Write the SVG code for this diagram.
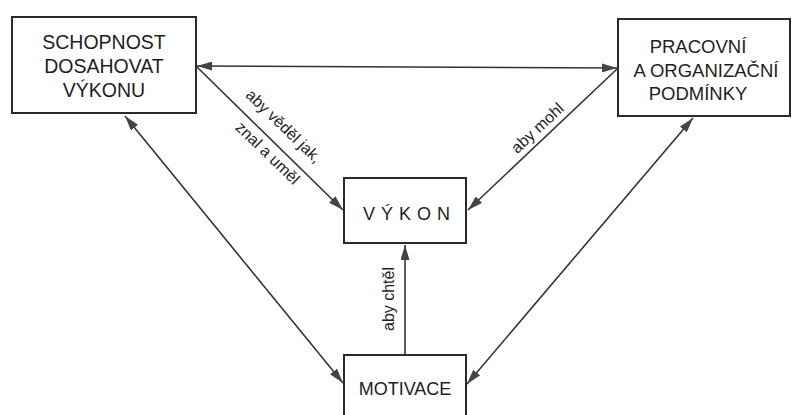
<svg xmlns="http://www.w3.org/2000/svg" width="792" height="415" viewBox="0 0 792 415">
<style>
.box{fill:none;stroke:#2a2a2a;stroke-width:2}
.t{font-family:"Liberation Sans",Arial,sans-serif;font-size:18.5px;fill:#1e1e1e;text-anchor:middle}
.l{font-family:"Liberation Sans",Arial,sans-serif;font-size:16px;fill:#1e1e1e;text-anchor:middle}
.c{fill:none;stroke:#333;stroke-width:1.6;marker-end:url(#ah)}
.both{marker-start:url(#ah)}
</style>
<defs>
<marker id="ah" viewBox="0 0 15 9" refX="15" refY="4.5" markerWidth="15" markerHeight="9" markerUnits="userSpaceOnUse" orient="auto-start-reverse">
<path d="M0,0 L15,4.5 L0,9 Z" fill="#444"/>
</marker>
</defs>
<rect width="792" height="415" fill="#fff"/>
<g id="connectors">
<line class="c both" x1="197" y1="66" x2="617" y2="68"/>
<line class="c" x1="197" y1="67" x2="343" y2="210"/>
<line class="c" x1="617" y1="69" x2="468" y2="210"/>
<line class="c" x1="405" y1="355" x2="405" y2="245"/>
<line class="c both" x1="125" y1="116" x2="343" y2="383"/>
<line class="c both" x1="693" y1="118" x2="467" y2="384"/>
</g>
<g id="labels">
<text class="l" transform="translate(280,130) rotate(44)">aby věděl jak,</text>
<text class="l" transform="translate(264,157) rotate(44)">znal a uměl</text>
<text class="l" transform="translate(541,132) rotate(-43)">aby mohl</text>
<text class="l" transform="translate(394,299) rotate(-90)">aby chtěl</text>
</g>
<g id="schopnost">
<rect class="box" x="12" y="17" width="184" height="96"/>
<text class="t" x="104" y="49" style="font-size:19.5px">SCHOPNOST</text>
<text class="t" x="104" y="73" style="font-size:19.5px">DOSAHOVAT</text>
<text class="t" x="104" y="97" style="font-size:19.5px">VÝKONU</text>
</g>
<g id="pracovni">
<rect class="box" x="618" y="19" width="172" height="97"/>
<text class="t" x="698" y="53">PRACOVNÍ</text>
<text class="t" x="706" y="77">A ORGANIZAČNÍ</text>
<text class="t" x="698" y="100">PODMÍNKY</text>
</g>
<g id="vykon">
<rect class="box" x="344" y="178" width="122" height="65"/>
<text class="t" x="363" y="220" style="text-anchor:start;font-size:18px;letter-spacing:6px">VÝKON</text>
</g>
<g id="motivace">
<rect class="box" x="344" y="355" width="122" height="70"/>
<text class="t" x="405" y="395" style="font-size:18px">MOTIVACE</text>
</g>
</svg>
